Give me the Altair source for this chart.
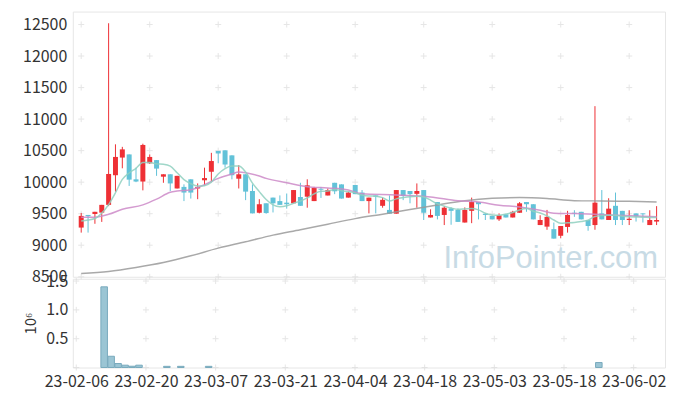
import altair as alt
import pandas as pd

tick_idx = [0, 10, 20, 30, 40, 50, 60, 70, 80]
tick_labels = ['23-02-06', '23-02-20', '23-03-07', '23-03-21', '23-04-04',
               '23-04-18', '23-05-03', '23-05-18', '23-06-02']

opens = [9280, 9480, 9495, 9517, 9640, 10110, 10390, 10440, 10045, 10010,
         10300, 10350, 10087, 10125, 9900, 9925, 10045, 9900, 10030, 10165,
         10495, 10505, 10425, 10055, 10125, 9860, 9515, 9665, 9755, 9700,
         9675, 9665, 9765, 9770, 9700, 9895, 9790, 9990, 9965, 9755,
         9955, 9835, 9700, 9790, 9625, 9560, 9500, 9875, 9860, 9815,
         9875, 9440, 9685, 9480, 9585, 9560, 9360, 9545, 9685, 9500,
         9465, 9410, 9490, 9440, 9515, 9685, 9650, 9320, 9295, 9255,
         9150, 9290, 9515, 9530, 9400, 9320, 9505, 9400, 9625, 9545,
         9400, 9505, 9505, 9320, 9375]
highs = [9512, 9480, 9530, 9640, 12520, 10600, 10560, 10440, 10230, 10610,
         10440, 10350, 10125, 10125, 10100, 9965, 10045, 9980, 10230, 10465,
         10495, 10505, 10425, 10270, 10125, 9965, 9730, 9665, 9755, 9790,
         9820, 9875, 9990, 10045, 9925, 9925, 9900, 9990, 9965, 9850,
         9955, 9875, 9755, 9790, 9755, 9790, 9875, 9875, 9860, 9980,
         9875, 9570, 9685, 9620, 9600, 9580, 9600, 9755, 9685, 9505,
         9465, 9505, 9490, 9545, 9685, 9685, 9650, 9475, 9560, 9360,
         9305, 9545, 9555, 9530, 9400, 11205, 9875, 9745, 9835, 9545,
         9555, 9505, 9505, 9555, 9620]
lows = [9200, 9200, 9340, 9370, 9620, 9850, 10220, 9940, 10000, 9870,
        10290, 10100, 9990, 9860, 9900, 9700, 9740, 9730, 9950, 10000,
        10300, 10230, 10045, 9900, 9715, 9505, 9505, 9500, 9520, 9640,
        9580, 9665, 9625, 9595, 9700, 9750, 9790, 9810, 9740, 9755,
        9810, 9700, 9505, 9505, 9595, 9500, 9500, 9715, 9665, 9595,
        9400, 9440, 9410, 9320, 9325, 9370, 9360, 9350, 9410, 9400,
        9410, 9385, 9440, 9440, 9515, 9530, 9410, 9320, 9245, 9105,
        9110, 9200, 9450, 9410, 9230, 9245, 9410, 9400, 9320, 9320,
        9320, 9375, 9360, 9320, 9320]
closes = [9465, 9460, 9530, 9640, 10130, 10400, 10520, 10040, 10010, 10590,
          10400, 10215, 10125, 9980, 10100, 9835, 9835, 9925, 10065, 10335,
          10455, 10280, 10110, 10125, 9850, 9505, 9650, 9510, 9665, 9640,
          9650, 9875, 9625, 9950, 9910, 9880, 9875, 9855, 9740, 9835,
          9810, 9700, 9755, 9770, 9720, 9500, 9875, 9780, 9810, 9860,
          9515, 9480, 9465, 9595, 9545, 9370, 9560, 9685, 9650, 9480,
          9410, 9475, 9440, 9530, 9665, 9650, 9410, 9400, 9450, 9105,
          9305, 9480, 9500, 9410, 9305, 9675, 9410, 9580, 9400, 9400,
          9420, 9455, 9490, 9400, 9400]
volumes = [0, 0, 0, 0, 1400000, 195000, 69000, 40000, 22000, 40000,
           0, 0, 0, 20000, 0, 20000, 0, 0, 0, 20000,
           0, 0, 0, 0, 0, 0, 0, 0, 0, 0,
           0, 0, 0, 0, 0, 0, 0, 0, 0, 0,
           0, 0, 0, 0, 0, 0, 0, 0, 0, 0,
           0, 0, 0, 0, 0, 0, 0, 0, 0, 0,
           0, 0, 0, 0, 0, 0, 0, 0, 0, 0,
           0, 0, 0, 0, 0, 86000, 0, 0, 0, 0,
           0, 0, 0, 0, 0]

ma5 = [9385, 9400, 9423, 9510, 9645, 9832, 10044, 10146, 10220, 10312,
       10312, 10290, 10283, 10255, 10150, 10040, 9975, 9940, 9945, 10000,
       10130, 10215, 10255, 10255, 10160, 9985, 9850, 9725, 9640, 9610,
       9625, 9666, 9700, 9750, 9815, 9855, 9860, 9885, 9865, 9850,
       9830, 9795, 9780, 9778, 9755, 9700, 9735, 9755, 9770, 9775,
       9765, 9715, 9655, 9620, 9590, 9570, 9575, 9581, 9560, 9508,
       9480, 9476, 9495, 9518, 9560, 9581, 9540, 9510, 9465, 9400,
       9349, 9355, 9360, 9375, 9397, 9455, 9470, 9476, 9476, 9460,
       9452, 9448, 9445, 9440, 9438]
ma20_idx = [0, 2, 4, 6, 9, 11, 13, 14, 16, 18, 20, 22, 23, 24, 26, 27, 30,
            33, 36, 39, 41, 46, 51, 55, 58, 61, 64, 67, 69, 72, 75, 78, 81, 84]
ma20_val = [9445, 9445, 9490, 9570, 9640, 9730, 9840, 9860, 9880, 9960,
            10060, 10130, 10160, 10150, 10098, 10060, 9992, 9929, 9908, 9876,
            9815, 9797, 9765, 9705, 9686, 9634, 9607, 9555, 9508, 9502,
            9492, 9476, 9465, 9450]
malong_idx = [0, 4, 8, 12, 16, 20, 24, 28, 32, 36, 40, 44, 48, 52, 56, 60,
              64, 68, 72, 76, 80, 84]
malong_val = [8550, 8584, 8647, 8726, 8832, 8954, 9054, 9160, 9245, 9334,
              9422, 9492, 9565, 9639, 9707, 9745, 9755, 9740, 9707, 9702,
              9697, 9686]

y_ticks = [8500, 9000, 9500, 10000, 10500, 11000, 11500, 12000, 12500]
vol_ticks = [500000, 1000000, 1500000]

RED = '#ee3035'
BLUE = '#62c2d8'
FONT = 'Noto Sans CJK KR'
W = 594

n = len(opens)
df = pd.DataFrame({'i': list(range(n)), 'open': opens, 'high': highs,
                   'low': lows, 'close': closes, 'vol': volumes})
df['dir'] = ['up' if c >= o else 'down' for o, c in zip(opens, closes)]

label_expr = '[' + ','.join("'%s'" % t for t in tick_labels) + '][round(datum.value/10)]'
xscale = alt.Scale(domain=[-0.5, n - 0.5], nice=False, zero=False)
yscale = alt.Scale(domain=[8500, 12705], nice=False, zero=False)
color = alt.Color('dir:N', scale=alt.Scale(domain=['up', 'down'], range=[RED, BLUE]), legend=None)

y_axis = alt.Axis(values=y_ticks, format='d', ticks=False, domain=False, grid=False,
                  title=None, labelPadding=6)

def X(field):
    return alt.X(field, scale=xscale, axis=None)

def Y(field):
    return alt.Y(field, scale=yscale, axis=y_axis)

grid_main = pd.DataFrame([{'i': xi, 'v': yv} for xi in tick_idx for yv in y_ticks])
cross = 'M-1,0H1M0,-1V1'
crosses = alt.Chart(grid_main).mark_point(shape=cross, size=36, filled=False, stroke='#dcdcdc',
                                          strokeWidth=1).encode(x=X('i:Q'), y=Y('v:Q'))

wicks = alt.Chart(df).mark_rule(strokeWidth=1).encode(
    x=X('i:Q'), y=Y('low:Q'), y2='high:Q', color=color)
bodies = alt.Chart(df).mark_bar(size=5).encode(
    x=X('i:Q'), y=Y('open:Q'), y2='close:Q', color=color)

ma5_df = pd.DataFrame({'i': list(range(n)), 'v': ma5})
ma20_df = pd.DataFrame({'i': ma20_idx, 'v': ma20_val})
mal_df = pd.DataFrame({'i': malong_idx, 'v': malong_val})

def ma_line(d, col, interp):
    return alt.Chart(d).mark_line(color=col, strokeWidth=1.5, opacity=0.85, interpolate=interp).encode(
        x=X('i:Q'), y=Y('v:Q'))

lines = [ma_line(mal_df, '#9a9a9a', 'monotone'), ma_line(ma20_df, '#cc8ac8', 'monotone'),
         ma_line(ma5_df, '#8fd0c0', 'monotone')]

watermark = alt.Chart(pd.DataFrame({'t': ['InfoPointer.com']})).mark_text(
    font='Liberation Sans', fontSize=31, color='#c8dbe5', align='right', baseline='alphabetic').encode(
    text='t:N', x=alt.value(587), y=alt.value(257))

main = alt.layer(crosses, watermark, wicks, bodies, *lines).properties(width=W, height=266)

vscale = alt.Scale(domain=[0, 1540000], nice=False, zero=True)
vx_axis = alt.Axis(values=tick_idx, labelExpr=label_expr, ticks=False, domain=False,
                   grid=False, title=None, labelPadding=6)
vy_axis = alt.Axis(values=vol_ticks, labelExpr="format(datum.value/1e6, '.1f')", ticks=False,
                   domain=False, grid=False, title='10⁶', titlePadding=7,
                   titleFontWeight='normal', labelPadding=5)
grid_vol = pd.DataFrame([{'i': xi, 'v': yv} for xi in tick_idx for yv in [0] + vol_ticks])
vcross = alt.Chart(grid_vol).mark_point(shape=cross, size=36, filled=False, stroke='#dcdcdc',
                                        strokeWidth=1).encode(
    x=alt.X('i:Q', scale=xscale, axis=vx_axis), y=alt.Y('v:Q', scale=vscale, axis=vy_axis))
vbars = alt.Chart(df).transform_filter('datum.vol > 0').transform_calculate(
    x0='datum.i - 0.47', x1='datum.i + 0.47', base='0').mark_bar(
    color='#9bc5d4', stroke='#78aabd', strokeWidth=1).encode(
    x=alt.X('x0:Q', scale=xscale, axis=vx_axis), x2='x1:Q',
    y=alt.Y('vol:Q', scale=vscale, axis=vy_axis), y2='base:Q')
vol = alt.layer(vcross, vbars).properties(width=W, height=89)

chart = alt.vconcat(main, vol, spacing=2, bounds='flush').properties(
    padding={'left': 14, 'top': 2, 'right': 2, 'bottom': 0}
).configure_view(stroke='#e6e6e6').configure_axis(
    labelFont=FONT, labelFontSize=16, labelColor='#333333', titleFont=FONT, titleFontSize=15,
    titleColor='#333333')

chart.save('out.html', embed_options={'renderer': 'svg', 'actions': False})
